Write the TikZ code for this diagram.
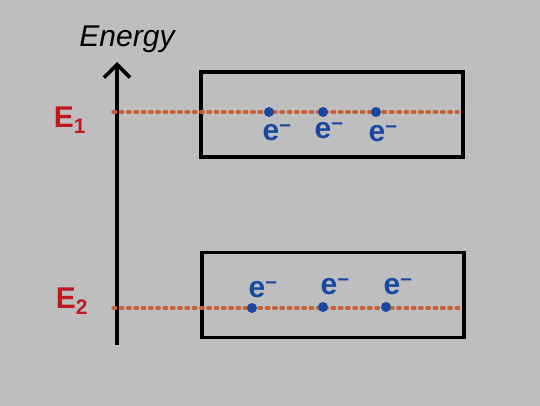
\documentclass[tikz,border=0pt]{standalone}
\usepackage{fontspec}
\setmainfont{Liberation Sans}
\usetikzlibrary{arrows.meta}
\definecolor{bg}{RGB}{190,190,190}
\definecolor{lvl}{RGB}{196,98,58}
\definecolor{eblue}{RGB}{24,72,160}
\definecolor{ered}{RGB}{192,24,30}
\tikzset{
  band/.style={draw=black, line width=3.6pt, minimum width=262pt, minimum height=85pt, inner sep=0pt},
  level/.style={draw=lvl, line width=3.4pt, dash pattern=on 2.6pt off 4.7pt, line cap=round},
  elec/.style={circle, fill=eblue, inner sep=0pt, minimum size=10pt},
  elab/.style={text=eblue, font=\bfseries\fontsize{30}{30}\selectfont, inner sep=0pt},
  elabel/.style={text=ered, font=\bfseries\fontsize{30}{30}\selectfont, inner sep=0pt},
}
\begin{document}
\begin{tikzpicture}[x=1pt,y=-1pt]
\fill[bg] (0,0) rectangle (540,406);
\useasboundingbox (0,0) rectangle (540,406);
% axis
\coordinate (ax0) at (117,345);
\coordinate (ax1) at (117,62);
\draw[line width=3.6pt, -{Straight Barb[length=13pt,width=26pt,line width=3.6pt]}] (ax0) -- (ax1);
\node[font=\itshape\fontsize{30}{30}\selectfont, inner sep=0pt] (energy) at (127,39) {Energy};
% bands
\node[band] (upper) at (332,114.5) {};
\node[band] (lower) at (333,295) {};
% levels
\coordinate (l1a) at (113,112);
\coordinate (l1b) at (458,112);
\coordinate (l2a) at (113,308);
\coordinate (l2b) at (460,308);
\draw[level] (l1a) -- (l1b);
\draw[level] (l2a) -- (l2b);
\node[elabel] (E1) at (70,120) {E\textsubscript{1}};
\node[elabel] (E2) at (72,301) {E\textsubscript{2}};
% upper electrons
\node[elec] (u1) at (269,112) {};
\node[elec] (u2) at (323,112) {};
\node[elec] (u3) at (376,112) {};
\node[elab] (ul1) at (277,133) {e\textsuperscript{--}};
\node[elab] (ul2) at (329,131) {e\textsuperscript{--}};
\node[elab] (ul3) at (383,134) {e\textsuperscript{--}};
% lower electrons
\node[elec] (d1) at (252,308) {};
\node[elec] (d2) at (323,307) {};
\node[elec] (d3) at (386,307) {};
\node[elab] (dl1) at (263,290) {e\textsuperscript{--}};
\node[elab] (dl2) at (335,287) {e\textsuperscript{--}};
\node[elab] (dl3) at (398,287) {e\textsuperscript{--}};
\end{tikzpicture}
\end{document}
